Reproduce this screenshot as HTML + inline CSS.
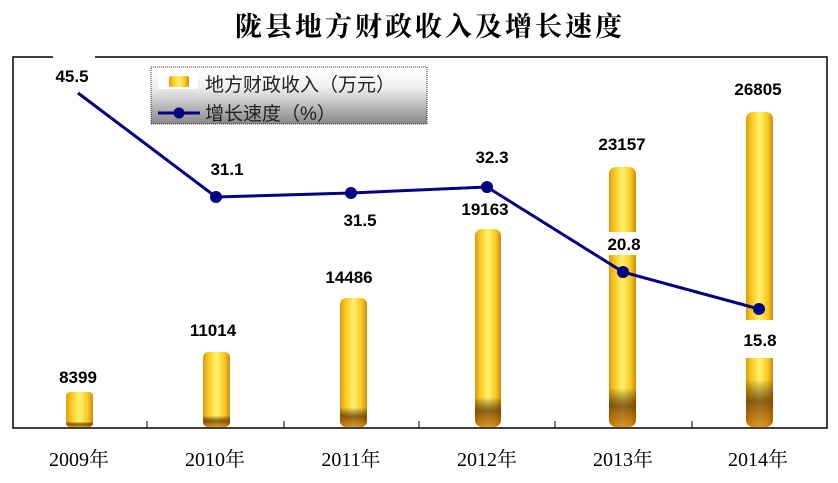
<!DOCTYPE html>
<html><head><meta charset="utf-8"><style>
html,body{margin:0;padding:0;background:#fff;}
svg{display:block;}
.t{font-family:"Liberation Serif","Noto Serif CJK SC",serif;}
.s{font-family:"Liberation Sans","Noto Sans CJK SC",sans-serif;}
</style></head><body>
<svg width="838" height="483" viewBox="0 0 838 483" xmlns="http://www.w3.org/2000/svg">
<defs>
<linearGradient id="g" x1="0" x2="1" y1="0" y2="0">
<stop offset="0" stop-color="#e09a10"/><stop offset="0.2" stop-color="#f8c820"/><stop offset="0.5" stop-color="#fff070"/><stop offset="0.8" stop-color="#f8c820"/><stop offset="1" stop-color="#d08a10"/>
</linearGradient>
<linearGradient id="gb" x1="0" x2="0" y1="0" y2="1">
<stop offset="0" stop-color="#000" stop-opacity="0"/><stop offset="0.85" stop-color="#000" stop-opacity="0"/><stop offset="0.92" stop-color="#5a2a00" stop-opacity="0.7"/><stop offset="1" stop-color="#c06000" stop-opacity="0.6"/>
</linearGradient>
<linearGradient id="lg" x1="0" x2="0" y1="0" y2="1">
<stop offset="0" stop-color="#fff"/><stop offset="0.35" stop-color="#f0f0f0"/><stop offset="1" stop-color="#888"/>
</linearGradient>
</defs>
<text x="430" y="36" text-anchor="middle" class="t" font-size="27" font-weight="bold" letter-spacing="3">陇县地方财政收入及增长速度</text>
<!-- frame -->
<polyline points="53,57 13,57 13,428 827,428 827,57 95,57" fill="none" stroke="#000" stroke-width="1.5"/>
<g stroke="#000" stroke-width="1">
<line x1="147" y1="421" x2="147" y2="428"/><line x1="284" y1="421" x2="284" y2="428"/><line x1="419" y1="421" x2="419" y2="428"/><line x1="555" y1="421" x2="555" y2="428"/><line x1="692" y1="421" x2="692" y2="428"/>
</g>
<!-- bars -->
<g>
<rect x="66" y="392" width="27" height="35" rx="4" fill="url(#g)"/><rect x="66" y="392" width="27" height="35" rx="4" fill="url(#gb)"/>
<rect x="203" y="352" width="27" height="75" rx="5" fill="url(#g)"/><rect x="203" y="352" width="27" height="75" rx="5" fill="url(#gb)"/>
<rect x="340" y="298" width="27" height="129" rx="6" fill="url(#g)"/><rect x="340" y="298" width="27" height="129" rx="6" fill="url(#gb)"/>
<rect x="475" y="229" width="26" height="198" rx="7" fill="url(#g)"/><rect x="475" y="229" width="26" height="198" rx="7" fill="url(#gb)"/>
<rect x="609" y="167" width="27" height="260" rx="7" fill="url(#g)"/><rect x="609" y="167" width="27" height="260" rx="7" fill="url(#gb)"/>
<rect x="746" y="112" width="27" height="315" rx="7" fill="url(#g)"/><rect x="746" y="112" width="27" height="315" rx="7" fill="url(#gb)"/>
</g>
<!-- line -->
<polyline points="78,93 216,197 351,193 487,187 623,272 759,309" fill="none" stroke="#000080" stroke-width="3"/>
<g fill="#000080"><circle cx="216" cy="197" r="6"/><circle cx="351" cy="193" r="6"/><circle cx="487" cy="187" r="6"/><circle cx="623" cy="272" r="6"/><circle cx="759" cy="309" r="6"/></g>
<!-- labels -->
<g class="s" font-size="17" font-weight="bold" text-anchor="middle">
<text x="72" y="82">45.5</text>
<text x="227" y="175">31.1</text>
<text x="360" y="226">31.5</text>
<text x="492" y="163">32.3</text>
<rect x="605" y="232" width="40" height="23" fill="#fff"/><text x="624" y="250">20.8</text>
<rect x="745" y="320" width="28" height="38" fill="#fff"/><text x="760" y="346">15.8</text>
<text x="78" y="383">8399</text>
<text x="213" y="336">11014</text>
<text x="349" y="283">14486</text>
<text x="485" y="215">19163</text>
<text x="622" y="150">23157</text>
<text x="758" y="95">26805</text>
</g>
<!-- legend -->
<rect x="151" y="67" width="276" height="57" fill="url(#lg)" stroke="#333" stroke-width="1" stroke-dasharray="1,1"/>
<rect x="158" y="73" width="40" height="16" fill="#fff"/>
<rect x="169" y="76" width="20" height="11" rx="2" fill="url(#g)"/>
<line x1="158" y1="113" x2="200" y2="113" stroke="#000080" stroke-width="3"/>
<circle cx="179" cy="113" r="5.5" fill="#000080"/>
<g class="s" font-size="19" fill="#222">
<text x="205" y="91">地方财政收入（万元）</text>
<text x="205" y="120">增长速度（%）</text>
</g>
<!-- category labels -->
<g class="t" font-size="20" text-anchor="middle">
<text x="79" y="466">2009年</text>
<text x="215" y="466">2010年</text>
<text x="351" y="466">2011年</text>
<text x="487" y="466">2012年</text>
<text x="623" y="466">2013年</text>
<text x="758" y="466">2014年</text>
</g>
</svg>
</body></html>
